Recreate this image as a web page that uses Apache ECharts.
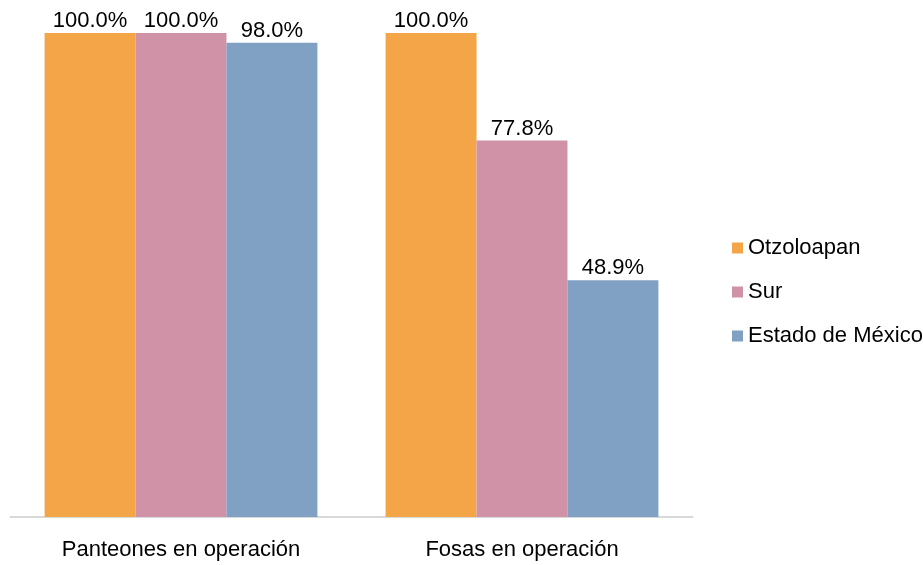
<!DOCTYPE html>
<html><head><meta charset="utf-8">
<script src="https://cdn.jsdelivr.net/npm/echarts@6/dist/echarts.min.js"></script>
<style>html,body{margin:0;padding:0;background:#fff}#c{width:923px;height:565px}</style>
</head><body><div id="c"></div>
<script>
const categories = ['Panteones en operación', 'Fosas en operación'];
const seriesNames = ['Otzoloapan', 'Sur', 'Estado de México'];
const otzoloapan = [100.0, 100.0];
const sur = [100.0, 77.8];
const edomex = [98.0, 48.9];
const colors = ['#F3A548', '#D092A6', '#80A0C4'];
const values = [otzoloapan, sur, edomex];
const font = '"Liberation Sans", Arial, sans-serif';
const chart = echarts.init(document.getElementById('c'));
chart.setOption({
  animation: false,
  textStyle: { fontFamily: font },
  grid: { left: 10.5, right: 230.5, top: 33, bottom: 48 },
  legend: {
    orient: 'vertical', left: 727, top: 232, itemWidth: 11, itemHeight: 11, itemGap: 22,
    textStyle: { fontSize: 22, color: '#000', fontFamily: font },
    icon: 'rect',
    data: seriesNames
  },
  xAxis: {
    type: 'category', data: categories,
    axisLine: { lineStyle: { color: '#d9d9d9', width: 2 } },
    axisTick: { show: false },
    axisLabel: { interval: 0, fontSize: 22, color: '#000', margin: 22, fontFamily: font }
  },
  yAxis: { type: 'value', min: 0, max: 100, show: false, splitLine: { show: false } },
  series: seriesNames.map((n, i) => ({
    name: n, type: 'bar', data: values[i],
    barGap: '0%', barCategoryGap: '20%',
    itemStyle: { color: colors[i] },
    label: { show: true, position: 'top', distance: 1, fontSize: 22, color: '#000', fontFamily: font,
      formatter: p => p.value.toFixed(1) + '%' }
  }))
});
</script></body></html>
